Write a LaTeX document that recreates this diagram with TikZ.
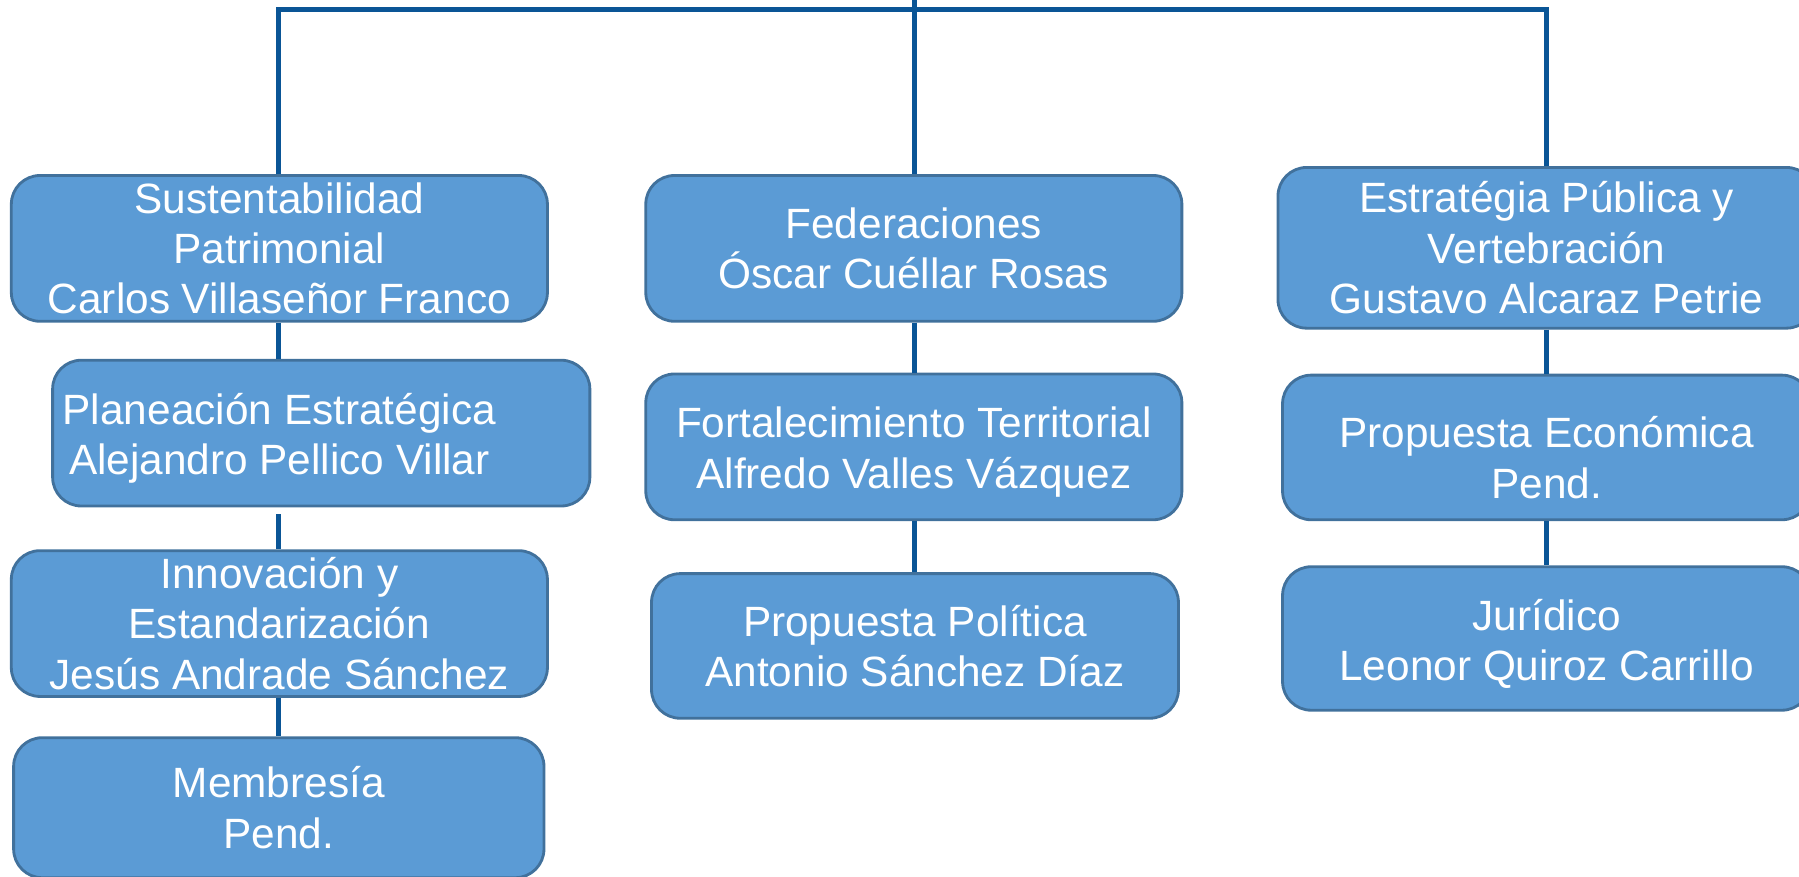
\documentclass[tikz,border=0pt]{standalone}
\usepackage{fontspec}
\setmainfont{Liberation Sans}
\definecolor{boxfill}{RGB}{91,155,213}
\definecolor{boxline}{RGB}{65,113,156}
\definecolor{conn}{RGB}{10,85,150}
\begin{document}
\begin{tikzpicture}[x=0.01cm,y=-0.01cm,
  orgbox/.style={draw=boxline,line width=0.7pt,fill=boxfill,rounded corners=0.25cm,
    text=white,align=center,inner sep=0pt,
    font=\fontsize{10.5}{12.5}\selectfont},
  orgtext/.style={text=white,align=center,inner sep=0pt,
    font=\fontsize{10.5}{12.5}\selectfont},
  link/.style={draw=conn,line width=1.2pt}]
\useasboundingbox (0,0) rectangle (1568,764);
% coordinates of the trunk
\coordinate (L) at (243,8);
\coordinate (C) at (797,-2);
\coordinate (R) at (1348,8);
% boxes
\path
 (243.5,216.5) node[orgbox,minimum width=4.67cm,minimum height=1.27cm] (B1) {Sustentabilidad\\Patrimonial\\Carlos Villaseñor Franco}
 (280,377.5)   node[orgbox,minimum width=4.68cm,minimum height=1.27cm] (B2) {}
 (243.5,543.5) node[orgbox,minimum width=4.67cm,minimum height=1.27cm] (B3) {Innovación y\\Estandarización\\Jesús Andrade Sánchez}
 (243,704)     node[orgbox,minimum width=4.62cm,minimum height=1.22cm] (B4) {Membresía\\Pend.}
 (796.5,216.5) node[orgbox,minimum width=4.67cm,minimum height=1.27cm] (M1) {Federaciones\\Óscar Cuéllar Rosas}
 (796.5,389.5) node[orgbox,minimum width=4.67cm,minimum height=1.27cm] (M2) {}
 (797.5,563)   node[orgbox,minimum width=4.59cm,minimum height=1.26cm] (M3) {Propuesta Política\\Antonio Sánchez Díaz}
 (1348,216)    node[orgbox,minimum width=4.68cm,minimum height=1.40cm] (R1) {Estratégia Pública y\\Vertebración\\Gustavo Alcaraz Petrie}
 (1348,390)    node[orgbox,minimum width=4.60cm,minimum height=1.26cm] (R2) {}
 (1348,556.5)  node[orgbox,minimum width=4.60cm,minimum height=1.25cm] (R3) {};
% texts placed off-centre in their boxes
\node[orgtext] (B2t) at (243.5,382) {Planeación Estratégica\\Alejandro Pellico Villar};
\node[orgtext] (M2t) at (796.5,394) {Fortalecimiento Territorial\\Alfredo Valles Vázquez};
\node[orgtext] (R2t) at (1348,399) {Propuesta Económica\\Pend.};
\node[orgtext] (R3t) at (1348,561) {Jurídico\\Leonor Quiroz Carrillo};
% connectors
\draw[link] (L |- B1.north) -- (L) -- (R) -- (R |- R1.north);
\draw[link] (C) -- (C |- M1.north);
\draw[link] (L |- B1.south) -- (L |- B2.north);
\draw[link] (L |- B2.south) ++(0,6) -- (L |- B3.north);
\draw[link] (L |- B3.south) -- (L |- B4.north);
\draw[link] (C |- M1.south) -- (C |- M2.north);
\draw[link] (C |- M2.south) -- (C |- M3.north);
\draw[link] (R |- R1.south) -- (R |- R2.north);
\draw[link] (R |- R2.south) -- (R |- R3.north);
\end{tikzpicture}
\end{document}
